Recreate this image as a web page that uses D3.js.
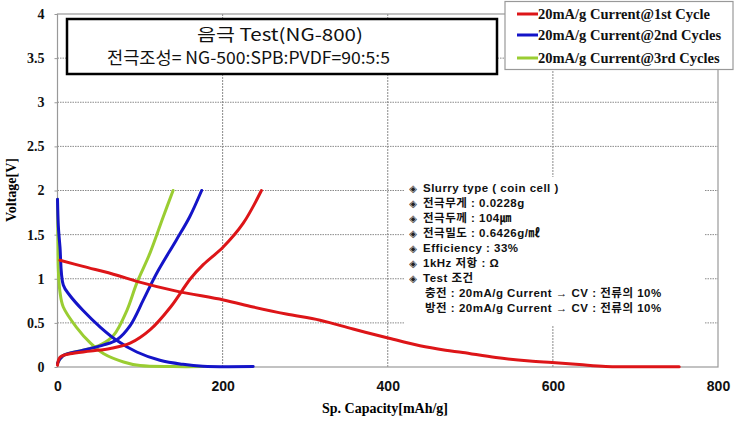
<!DOCTYPE html>
<html><head><meta charset="utf-8">
<script src="https://cdn.jsdelivr.net/npm/d3@7"></script>
<style>
body{margin:0;background:#fff;}
svg{display:block;}
</style></head>
<body>
<script>
// ---- data ----
const seriesNames = ["20mA/g Current@1st Cycle", "20mA/g Current@2nd Cycles", "20mA/g Current@3rd Cycles"];
const seriesColors = ["#dd1518", "#1414c8", "#9acd32"];

// 1st cycle (red)
const c1DisCap = [3, 31, 72, 96, 144, 201, 237, 277, 318, 358, 398, 439, 470, 491, 531, 572, 599, 632, 664, 700, 753];
const c1DisV   = [1.21, 1.14, 1.04, 0.97, 0.86, 0.76, 0.68, 0.6, 0.53, 0.43, 0.335, 0.24, 0.19, 0.165, 0.107, 0.068, 0.05, 0.027, 0.006, 0.004, 0.004];
const c1ChgCap = [0, 3, 15, 40, 64, 88, 112, 137, 161, 176.5, 200.7, 225, 247];
const c1ChgV   = [0.02, 0.11, 0.15, 0.18, 0.21, 0.27, 0.42, 0.68, 1.0, 1.16, 1.36, 1.63, 2.0];
// 2nd cycle (blue)
const c2DisCap = [0, 1, 3, 7, 15, 31, 52, 72, 96, 124, 152, 176, 237];
const c2DisV   = [1.9, 1.6, 1.36, 0.93, 0.81, 0.64, 0.45, 0.30, 0.17, 0.076, 0.03, 0.008, 0.005];
const c2ChgCap = [0, 7, 31, 56, 72, 88, 104, 120, 144, 160, 174.6];
const c2ChgV   = [0.04, 0.13, 0.19, 0.25, 0.31, 0.47, 0.76, 1.06, 1.44, 1.70, 2.0];
// 3rd cycle (green)
const c3DisCap = [0, 0.5, 1, 3, 7, 23, 40, 56, 80, 100, 140, 177];
const c3DisV   = [1.9, 1.4, 1.1, 0.85, 0.68, 0.45, 0.27, 0.15, 0.057, 0.016, 0.005, 0.005];
const c3ChgCap = [0, 7, 31, 52, 68, 84, 96, 112, 128, 140];
const c3ChgV   = [0.04, 0.13, 0.19, 0.25, 0.36, 0.64, 0.95, 1.29, 1.70, 2.0];

const xTicks = [0, 200, 400, 600, 800];
const yTicks = [0, 0.5, 1, 1.5, 2, 2.5, 3, 3.5, 4];
const yTickLabels = ["0", "0.5", "1", "1.5", "2", "2.5", "3", "3.5", "4"];

const titleLines = ["음극 Test(NG-800)", "전극조성= NG-500:SPB:PVDF=90:5:5"];
const infoLines = [
  {b: true, t: "Slurry type ( coin cell )"},
  {b: true, t: "전극무게 : 0.0228g"},
  {b: true, t: "전극두께 : 104㎛"},
  {b: true, t: "전극밀도 : 0.6426g/㎖"},
  {b: true, t: "Efficiency : 33%"},
  {b: true, t: "1kHz 저항 : Ω"},
  {b: true, t: "Test 조건"},
  {b: false, t: "충전 : 20mA/g Current → CV : 전류의 10%"},
  {b: false, t: "방전 : 20mA/g Current → CV : 전류의 10%"}
];

// ---- chart ----
const W = 737, H = 421;
const svg = d3.select("body").append("svg").attr("width", W).attr("height", H);
const x = d3.scaleLinear().domain([0, 800]).range([57.5, 718]);
const y = d3.scaleLinear().domain([0, 4]).range([367, 14]);

const serif = "'Liberation Serif','DejaVu Serif',serif";
const sans = "'Liberation Sans',Arial,sans-serif";
const kr = "'Noto Sans CJK KR','Liberation Sans',sans-serif";
const krInfo = "'Liberation Sans','Noto Sans CJK KR',sans-serif";

// grid
svg.append("g").selectAll("line").data(yTicks.filter(v => v > 0 && v < 4)).join("line")
  .attr("x1", x(0)).attr("x2", x(800)).attr("y1", d => y(d)).attr("y2", d => y(d))
  .attr("stroke", "#8a8a8a").attr("stroke-width", 1).attr("stroke-dasharray", "1.5,1");
svg.append("g").selectAll("line").data(xTicks.filter(v => v > 0 && v < 800)).join("line")
  .attr("x1", d => x(d)).attr("x2", d => x(d)).attr("y1", y(0)).attr("y2", y(4))
  .attr("stroke", "#8a8a8a").attr("stroke-width", 1).attr("stroke-dasharray", "2,1");

// frame
svg.append("rect").attr("x", x(0)).attr("y", y(4)).attr("width", x(800) - x(0)).attr("height", y(0) - y(4))
  .attr("fill", "none").attr("stroke", "#999").attr("stroke-width", 1.2);

// axes
const yAxis = d3.axisLeft(y).tickValues(yTicks).tickFormat((d, i) => yTickLabels[i]).tickSize(3).tickPadding(10);
const gy = svg.append("g").attr("transform", `translate(${x(0)},0)`).call(yAxis);
gy.select(".domain").remove();
gy.selectAll("line").attr("stroke", "#999");
gy.selectAll("text").attr("font-family", serif).attr("font-weight", "bold").attr("font-size", 14).attr("fill", "#111");

const xAxis = d3.axisBottom(x).tickValues(xTicks).tickFormat(d3.format("d")).tickSize(0).tickPadding(14);
const gx = svg.append("g").attr("transform", `translate(0,${y(0)})`).call(xAxis);
gx.select(".domain").remove();
gx.selectAll("text").attr("font-family", sans).attr("font-weight", "bold").attr("font-size", 14).attr("fill", "#111");

svg.append("text").attr("x", 385).attr("y", 413).attr("text-anchor", "middle")
  .attr("font-family", serif).attr("font-weight", "bold").attr("font-size", 14).text("Sp. Capacity[mAh/g]");
svg.append("text").attr("transform", "translate(16,190) rotate(-90)").attr("text-anchor", "middle")
  .attr("font-family", serif).attr("font-weight", "bold").attr("font-size", 14).text("Voltage[V]");

// info box background
svg.append("rect").attr("x", 405).attr("y", 177).attr("width", 300).attr("height", 149).attr("fill", "#fff");

// curves
const line = d3.line().x(d => x(d[0])).y(d => y(d[1])).curve(d3.curveCatmullRom.alpha(0.5));
const curves = [
  [c1DisCap, c1DisV, 0], [c1ChgCap, c1ChgV, 0],
  [c2DisCap, c2DisV, 1], [c2ChgCap, c2ChgV, 1],
  [c3DisCap, c3DisV, 2], [c3ChgCap, c3ChgV, 2]
];
const order = [4, 5, 2, 3, 0, 1];
svg.append("g").selectAll("path").data(order.map(i => curves[i])).join("path")
  .attr("d", c => line(c[0].map((v, i) => [v, c[1][i]])))
  .attr("fill", "none").attr("stroke", c => seriesColors[c[2]]).attr("stroke-width", 3)
  .attr("stroke-linejoin", "round").attr("stroke-linecap", "round");

// info text
const info = svg.append("g");
infoLines.forEach((l, i) => {
  const yy = 192 + i * 15;
  if (l.b) {
    info.append("text").attr("x", 413).attr("y", yy - 0.5).attr("text-anchor", "middle")
      .attr("font-family", "'DejaVu Sans',sans-serif").attr("font-size", 10).attr("fill", "#222").text("◈");
  }
  info.append("text").attr("x", l.b ? 423 : 425).attr("y", yy)
    .attr("font-family", krInfo).attr("font-weight", "bold").attr("font-size", 11.5)
    .attr("letter-spacing", 0.5).attr("fill", "#111").text(l.t);
});

// title box
svg.append("rect").attr("x", 67).attr("y", 19).attr("width", 430).attr("height", 55)
  .attr("fill", "#fff").attr("stroke", "#000").attr("stroke-width", 2.5);
const titleX = [197, 107], titleW = [166, 283];
svg.append("g").selectAll("text").data(titleLines).join("text")
  .attr("x", (d, i) => titleX[i]).attr("y", (d, i) => 41 + i * 23)
  .attr("textLength", (d, i) => titleW[i]).attr("lengthAdjust", "spacingAndGlyphs")
  .attr("font-family", kr).attr("font-size", 17).attr("fill", "#111").text(d => d);

// legend
const lg = svg.append("g");
lg.append("rect").attr("x", 505).attr("y", 1.5).attr("width", 228).attr("height", 68)
  .attr("fill", "#fff").attr("stroke", "#999").attr("stroke-width", 1.2);
const lgY = [14, 35, 58];
seriesNames.forEach((n, i) => {
  lg.append("line").attr("x1", 517).attr("x2", 538).attr("y1", lgY[i]).attr("y2", lgY[i])
    .attr("stroke", seriesColors[i]).attr("stroke-width", 3);
  lg.append("text").attr("x", 538).attr("y", lgY[i] + 5)
    .attr("font-family", serif).attr("font-weight", "bold").attr("font-size", 14.5).attr("fill", "#111").text(n);
});
</script>
</body></html>
